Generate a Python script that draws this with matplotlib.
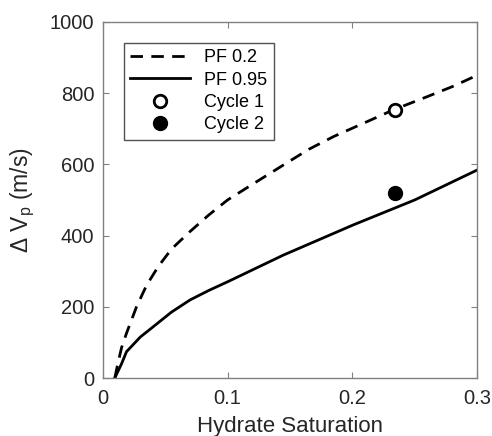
import matplotlib
matplotlib.use("Agg")
import matplotlib.pyplot as plt

plt.rcParams['font.family'] = ['Liberation Sans', 'DejaVu Sans']
plt.rcParams['mathtext.default'] = 'regular'

# PF 0.2 curve (dashed)
sat_pf02 = [0.0096, 0.012, 0.015, 0.019, 0.027, 0.035, 0.0444, 0.055, 0.0698, 0.085, 0.1,
            0.125, 0.147, 0.165, 0.185, 0.21, 0.233, 0.26, 0.28, 0.3]
dvp_pf02 = [0, 40, 85, 126, 200, 260, 313, 362, 411, 458, 500,
            555, 603, 642, 678, 717, 753, 790, 818, 850]
# PF 0.95 curve (solid)
sat_pf095 = [0.0096, 0.015, 0.019, 0.03, 0.0404, 0.055, 0.0698, 0.085, 0.1005, 0.1446, 0.2008, 0.25, 0.3]
dvp_pf095 = [0, 40, 74, 115, 144, 185, 219, 246, 271, 345, 430, 500, 584]
# measurements
cycle1_x, cycle1_y = [0.234], [752]
cycle2_x, cycle2_y = [0.234], [520]

fig = plt.figure(figsize=(4.92, 4.36), dpi=100)
ax = fig.add_axes([0.209, 0.133, 0.761, 0.817])

ax.plot(sat_pf02, dvp_pf02, 'k--', lw=2, dashes=(4.5, 3), label='PF 0.2')
ax.plot(sat_pf095, dvp_pf095, 'k-', lw=2, label='PF 0.95')
ax.plot(cycle1_x, cycle1_y, 'o', mfc='white', mec='black', mew=2, ms=9, label='Cycle 1')
ax.plot(cycle2_x, cycle2_y, 'o', mfc='black', mec='black', ms=10, label='Cycle 2')

ax.set_xlim(0, 0.3)
ax.set_ylim(0, 1000)
ax.set_xticks([0, 0.1, 0.2, 0.3])
ax.set_xticklabels(['0', '0.1', '0.2', '0.3'])
ax.set_yticks([0, 200, 400, 600, 800, 1000])

gray = '#262626'
for s in ax.spines.values():
    s.set_color('#808080')
    s.set_linewidth(1)
ax.tick_params(direction='in', top=True, right=True, length=4, labelsize=14.5,
               colors='#808080', labelcolor=gray)
ax.tick_params(axis='x', pad=8)
ax.tick_params(axis='y', pad=6)

ax.set_xlabel('Hydrate Saturation', fontsize=16, color=gray, labelpad=6)
ax.set_ylabel('\u0394 V$_{p}$ (m/s)', fontsize=16.5, color=gray, labelpad=9)

leg = ax.legend(loc='upper left', bbox_to_anchor=(0.056, 0.941), fontsize=13,
                frameon=True, fancybox=False, edgecolor=gray, handlelength=3.3,
                borderpad=0.35, labelspacing=0.3, borderaxespad=0)
leg.get_frame().set_linewidth(1)

fig.savefig('out.png', dpi=100)
